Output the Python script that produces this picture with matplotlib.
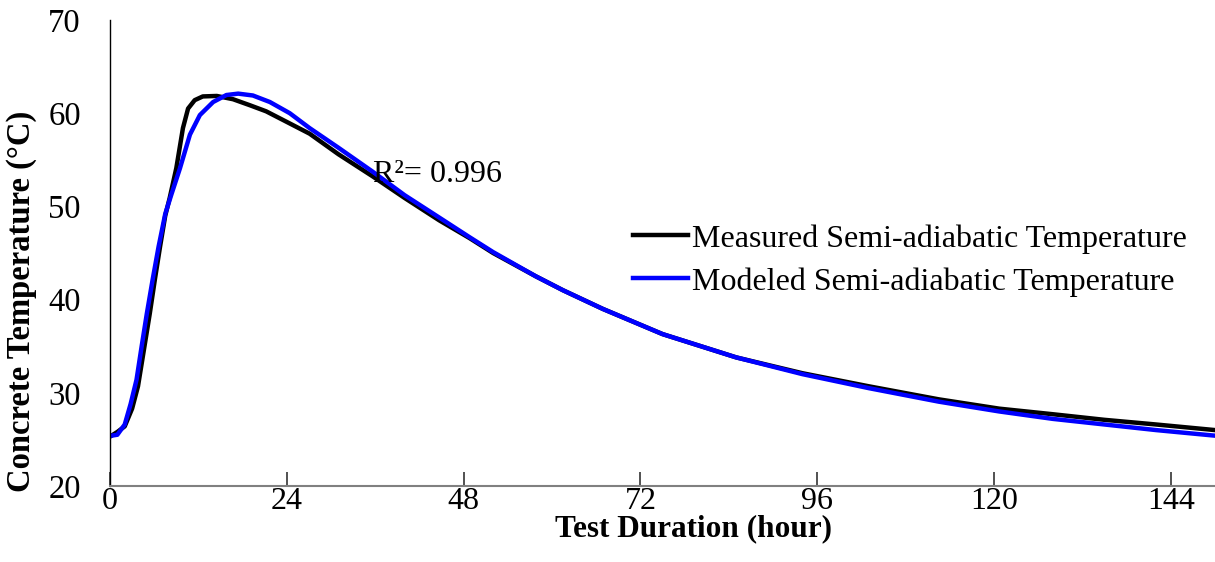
import matplotlib
matplotlib.use("Agg")
import matplotlib.pyplot as plt

# Measured semi-adiabatic temperature (hour, degC)
meas_hour = [0.2, 1.0, 2.0, 3.0, 3.8, 4.6, 5.4, 6.1, 6.8, 7.5, 8.1, 9.0, 9.9,
             10.6, 11.5, 12.6, 14.5, 16.7, 19.0, 21.2, 24.4, 27.1, 31.0, 35.7,
             40.0, 44.7, 48.8, 52.0, 57.8, 61.5, 66.9, 75.0, 85.0, 94.0, 103.0,
             112.5, 120.7, 128.0, 135.0, 142.0, 150.0]
meas_temp = [25.4, 25.8, 26.4, 28.3, 30.7, 34.6, 38.5, 42.2, 45.7, 49.0, 50.9, 54.1, 58.4,
             60.5, 61.4, 61.8, 61.85, 61.5, 60.85, 60.2, 58.9, 57.8, 55.6, 53.2,
             50.9, 48.5, 46.6, 45.0, 42.5, 41.0, 39.0, 36.3, 33.8, 32.1, 30.7,
             29.3, 28.3, 27.7, 27.1, 26.6, 26.0]

# Modeled semi-adiabatic temperature
model_hour = [0.2, 1.0, 2.0, 2.8, 3.6, 4.3, 5.0, 5.8, 6.6, 7.5, 8.3, 9.5, 10.85,
              12.2, 14.0, 15.8, 17.4, 19.4, 21.7, 24.4, 27.1, 31.0, 35.7, 40.0,
              44.7, 48.8, 52.0, 57.8, 61.5, 66.9, 75.0, 85.0, 94.0, 103.0, 112.5,
              120.7, 128.0, 135.0, 142.0, 150.0]
model_temp = [25.4, 25.5, 26.6, 28.8, 31.4, 35.0, 38.5, 42.2, 45.7, 49.2, 51.2, 54.1, 57.7,
              59.8, 61.2, 61.95, 62.1, 61.9, 61.2, 60.0, 58.4, 56.3, 53.7, 51.2,
              48.8, 46.7, 45.1, 42.5, 41.0, 39.0, 36.3, 33.8, 32.0, 30.5, 29.05,
              28.0, 27.2, 26.6, 26.0, 25.4]

x_ticks = [0, 24, 48, 72, 96, 120, 144]
y_ticks = [20, 30, 40, 50, 60, 70]
r2_text = "R²= 0.996"

plt.rcParams["font.family"] = ["Liberation Serif", "DejaVu Serif"]

fig = plt.figure(figsize=(12.15, 5.62), dpi=100)
ax = fig.add_axes([110 / 1215, 1 - 486 / 562, 1105 / 1215, 466 / 562])

ax.plot(meas_hour, meas_temp, color="black", lw=3.2,
        label="Measured Semi-adiabatic Temperature")
ax.plot(model_hour, model_temp, color="#0000ff", lw=3.2,
        label="Modeled Semi-adiabatic Temperature")

ax.set_xlim(0, 150)
ax.set_ylim(20, 70)
ax.set_xticks(x_ticks)
ax.set_yticks(y_ticks)

ax.spines["top"].set_visible(False)
ax.spines["right"].set_visible(False)
ax.spines["bottom"].set_color("#808080")
ax.spines["bottom"].set_linewidth(1.5)
ax.spines["left"].set_color("black")
ax.spines["left"].set_linewidth(1.0)

ax.tick_params(axis="x", direction="in", length=10, width=1.2, color="#333333",
               labelsize=23, pad=1)
ax.tick_params(axis="y", length=0, labelsize=23.5, pad=21)

ax.set_xlabel("Test Duration (hour)", fontsize=22.5, fontweight="bold")
ax.xaxis.set_label_coords(0.528, -0.06)
ax.set_ylabel("Concrete Temperature (°C)", fontsize=23.5, fontweight="bold")
ax.yaxis.set_label_coords(-0.066, 0.397)

ax.text(35.7, 53.4, r2_text, fontsize=23, va="center", ha="left")

ax.legend(loc="upper left", bbox_to_anchor=(0.473, 0.562), frameon=False,
          fontsize=23, handlelength=1.72, handletextpad=0.15,
          borderpad=0, borderaxespad=0, labelspacing=0.42)

fig.savefig("out.png", dpi=100)
